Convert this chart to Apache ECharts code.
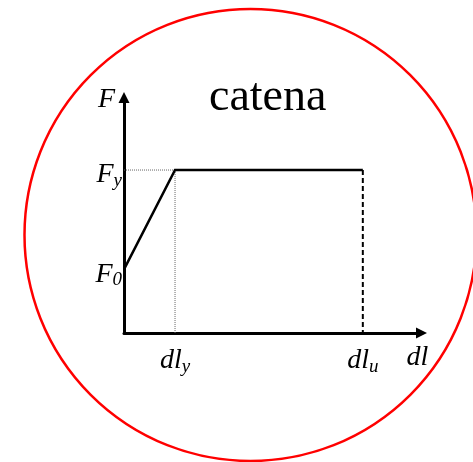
<!DOCTYPE html>
<html>
<head>
<meta charset="utf-8">
<script src="https://cdn.jsdelivr.net/npm/echarts@6/dist/echarts.min.js"></script>
<style>
  html, body { margin: 0; padding: 0; background: #fff; }
  #chart { width: 473px; height: 462px; }
</style>
</head>
<body>
<div id="chart"></div>
<script>
// Force–elongation law of the tie (catena): initial force F0, yield at (dly, Fy), plateau to dlu
const F0 = 0.39;
const Fy = 1.0;
const dly = 1.0;
const dlu = 4.68;
const xMax = 5.83;
const yMax = 1.445;

const loadPath = [[0, F0], [dly, Fy], [dlu, Fy]];
const failureDrop = [[dlu, Fy], [dlu, 0]];
const yieldGuideH = [[0, Fy], [dly, Fy]];
const yieldGuideV = [[dly, Fy], [dly, 0]];

const yTickValues = [F0, Fy];
const yTickLabels = ['{m|F}{s|0}', '{m|F}{s|y}'];
const xTickValues = [dly, dlu];
const xTickLabels = ['{m|dl}{s|y}', '{m|dl}{s|u}'];

const serif = '"Liberation Serif", "Times New Roman", serif';
const richText = {
  m: { fontFamily: serif, fontStyle: 'italic', fontSize: 28, color: '#000' },
  s: { fontFamily: serif, fontStyle: 'italic', fontSize: 19, color: '#000', padding: [12, 0, 0, 0] }
};

const chart = echarts.init(document.getElementById('chart'), null, { renderer: 'canvas' });

chart.setOption({
  animation: false,
  backgroundColor: '#fff',
  title: {
    text: 'catena',
    left: 209,
    top: 75,
    padding: 0,
    textStyle: { fontFamily: serif, fontSize: 46, fontWeight: 'normal', color: '#000' }
  },
  grid: { left: 124, right: 51.5, top: 97.5, bottom: 129, containLabel: false },
  xAxis: {
    type: 'value',
    min: 0,
    max: xMax,
    name: 'dl',
    nameLocation: 'end',
    nameGap: -4,
    nameTextStyle: {
      fontFamily: serif, fontStyle: 'italic', fontSize: 28, color: '#000',
      align: 'center', verticalAlign: 'top', padding: [11, 0, 0, 0]
    },
    axisLine: { show: true, symbol: ['none', 'triangle'], symbolSize: [11, 11], lineStyle: { color: '#000', width: 3 } },
    axisTick: { show: false },
    splitLine: { show: false },
    axisLabel: {
      customValues: xTickValues,
      margin: 12,
      formatter: (v) => xTickLabels[xTickValues.indexOf(v)] || '',
      rich: richText
    }
  },
  yAxis: {
    type: 'value',
    min: 0,
    max: yMax,
    name: 'F',
    nameLocation: 'end',
    nameGap: -2,
    nameTextStyle: {
      fontFamily: serif, fontStyle: 'italic', fontSize: 28, color: '#000',
      align: 'right', verticalAlign: 'middle', padding: [0, 9, 0, 0]
    },
    axisLine: { show: true, symbol: ['none', 'triangle'], symbolSize: [11, 11], lineStyle: { color: '#000', width: 3 } },
    axisTick: { show: false },
    splitLine: { show: false },
    axisLabel: {
      customValues: yTickValues,
      margin: 2,
      padding: [10, 0, 0, 0],
      formatter: (v) => yTickLabels[yTickValues.indexOf(v)] || '',
      rich: richText
    }
  },
  series: [
    {
      type: 'line', data: yieldGuideH, symbol: 'none', silent: true,
      lineStyle: { color: '#666', width: 1, type: 'dotted' }
    },
    {
      type: 'line', data: yieldGuideV, symbol: 'none', silent: true,
      lineStyle: { color: '#666', width: 1, type: 'dotted' }
    },
    {
      type: 'line', data: failureDrop, symbol: 'none', silent: true,
      lineStyle: { color: '#000', width: 2, type: [5, 3] }
    },
    {
      type: 'line', data: loadPath, symbol: 'none', silent: true,
      lineStyle: { color: '#000', width: 2.5, join: 'miter' }
    }
  ],
  graphic: [
    {
      type: 'circle',
      shape: { cx: 250.5, cy: 235, r: 226 },
      style: { fill: 'none', stroke: '#ff0000', lineWidth: 2.5 },
      silent: true
    }
  ]
});
</script>
</body>
</html>
